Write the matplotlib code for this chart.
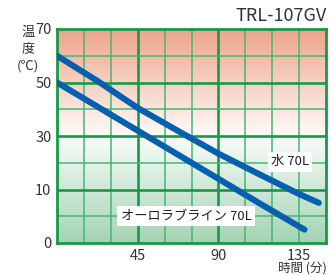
import numpy as np
import matplotlib
matplotlib.use("Agg")
import matplotlib.pyplot as plt
from matplotlib.colors import LinearSegmentedColormap

plt.rcParams['font.family'] = ['Noto Sans CJK JP', 'DejaVu Sans']

# Data (minutes, temperature on the chart's drawn scale)
water_t = [0, 22.5, 45, 67.5, 90, 112.5, 135, 146]
water_v = [60, 50.6, 40.5, 31.9, 23.4, 15.8, 8.3, 5.0]
aurora_t = [0, 22.5, 45, 67.5, 90, 112.5, 138]
aurora_v = [50, 41.0, 32.0, 23.0, 14.0, 5.0, -5.0]

xticks = [45, 90, 135]
xtick_labels = ["45", "90", "135"]
yticks = [-10, 10, 30, 50, 70]
ytick_labels = ["0", "10", "30", "50", "70"]

title = "TRL-107GV"
ylabel_parts = ["温", "度", "(℃)"]
xlabel = "時間 (分)"
label_water = "水 70L"
label_aurora = "オーロラブライン 70L"

fig = plt.figure(figsize=(3.33, 2.75), dpi=100)
ax = fig.add_axes([57/333, 32/275, 269/333, 214/275])
ax.set_xlim(0, 150)
ax.set_ylim(-10, 70)

# background gradient
cmap = LinearSegmentedColormap.from_list(
    "bg", [(0.0, "#a3d3b3"), (0.47, "#f4faf6"), (0.52, "#fdf8f6"), (1.0, "#eea58a")])
grad = np.linspace(0, 1, 256).reshape(-1, 1)
ax.imshow(grad, extent=[0, 150, -10, 70], origin="lower", aspect="auto",
          cmap=cmap, zorder=0)

green_dark = "#169a48"
green_light = "#48b572"
for x in np.arange(15, 150, 15):
    if x in (45, 90):
        ax.axvline(x, color=green_dark, lw=1.9, zorder=1)
    else:
        ax.axvline(x, color=green_light, lw=1.1, zorder=1)
for y in np.arange(0, 70, 10):
    if y in (10, 30, 50):
        ax.axhline(y, color=green_dark, lw=1.9, zorder=1)
    else:
        ax.axhline(y, color=green_light, lw=1.1, zorder=1)

for s in ax.spines.values():
    s.set_color(green_dark)
    s.set_linewidth(2.0)

blue = "#0660ae"
ax.plot(water_t, water_v, color=blue, lw=4.4, solid_capstyle="round", zorder=3)
ax.plot(aurora_t, aurora_v, color=blue, lw=4.4, solid_capstyle="round", zorder=3)

ax.set_xticks(xticks)
ax.set_xticklabels(xtick_labels)
ax.set_yticks(yticks)
ax.set_yticklabels(ytick_labels)
ax.tick_params(length=0, labelsize=10.5, colors="#333333", pad=4)

bbox = dict(facecolor="white", edgecolor="none", pad=2.4)
ax.text(130, 20.3, label_water, fontsize=9.5, color="#222222", ha="center",
        va="center", bbox=bbox, zorder=4)
ax.text(72, 0.0, label_aurora, fontsize=9.5, color="#222222", ha="center",
        va="center", bbox=bbox, zorder=4)

fig.text(327/333, 1 - 16/275, title, fontsize=13, color="#333333",
         ha="right", va="center")
for i, part in enumerate(ylabel_parts):
    fig.text(28/333, 1 - (32 + i * 17) / 275, part, fontsize=9.5,
             color="#333333", ha="center", va="center")
fig.text(327/333, 1 - 268/275, xlabel, fontsize=9, color="#333333",
         ha="right", va="center")

fig.savefig("out.png", dpi=100)
